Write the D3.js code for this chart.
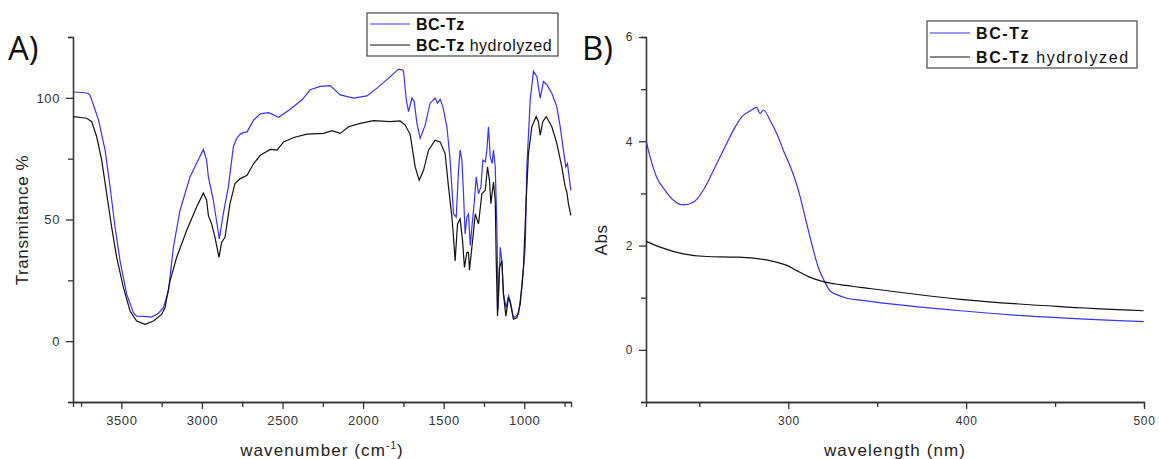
<!DOCTYPE html>
<html lang="en">
<head>
<meta charset="UTF-8">
<title>BC-Tz spectra</title>
<script src="https://cdn.jsdelivr.net/npm/d3@7"></script>
<style>
    body { margin: 0; background: #fff; }
    svg { display: block; font-family: "Liberation Sans", Arial, sans-serif; }
</style>
</head>
<body>
<div id="chart"></div>
<script>
// FTIR, BC-Tz (blue)
const irWnBlue = [3797, 3740, 3704, 3694, 3642, 3601, 3570, 3539, 3508, 3467, 3425, 3405, 3360, 3312, 3270, 3239, 3208, 3177, 3136, 3074, 3030, 2991, 2971, 2960, 2929, 2892, 2867, 2836, 2805, 2785, 2762, 2743, 2720, 2679, 2638, 2586, 2524, 2452, 2379, 2328, 2266, 2204, 2142, 2059, 1976, 1914, 1842, 1780, 1760, 1749, 1732, 1718, 1697, 1683, 1666, 1646, 1615, 1584, 1553, 1538, 1522, 1505, 1480, 1460, 1439, 1422, 1408, 1398, 1387, 1377, 1367, 1356, 1346, 1335, 1325, 1311, 1298, 1284, 1269, 1257, 1242, 1232, 1222, 1211, 1199, 1191, 1180, 1170, 1162, 1149, 1139, 1129, 1112, 1098, 1087, 1067, 1036, 1015, 994, 984, 963, 943, 922, 901, 881, 860, 829, 798, 777, 757, 742, 732, 711];
const irTBlue = [102.4, 102.2, 101.8, 101, 91, 78.5, 63.4, 46.8, 33, 19.3, 11.7, 10.3, 10.2, 9.9, 11.5, 13.8, 20.7, 38.6, 53.7, 67.5, 73.5, 78.8, 74.4, 67.5, 57.9, 42, 52.5, 63.4, 79.9, 83.3, 85.1, 85.7, 86, 90.9, 93.4, 93.9, 92, 95.3, 99.2, 103.3, 104.7, 105, 101.2, 99.9, 100.8, 104, 108.1, 111.8, 111.5, 110.9, 99.2, 94.3, 99.9, 98.5, 89.5, 83.3, 88.8, 97.8, 99.9, 97.8, 99.4, 96.4, 88.1, 74.4, 52.3, 51, 70.2, 78.5, 74.4, 60.6, 44.1, 51, 52.3, 39.3, 46.8, 56.5, 67.5, 60.6, 63.4, 74.4, 73.7, 78.5, 88.1, 75.7, 73, 78.5, 71.6, 46.8, 13, 38.6, 33, 19.3, 13.8, 18.6, 16.5, 9.6, 11, 22, 38.6, 71.6, 99.2, 110.9, 108.8, 99.9, 106.7, 105.4, 101.9, 96.4, 88.1, 78.5, 71.6, 73, 62];

// FTIR, BC-Tz hydrolyzed (black)
const irWnBlack = [3797, 3715, 3684, 3653, 3622, 3591, 3560, 3529, 3487, 3446, 3405, 3353, 3301, 3250, 3229, 3198, 3157, 3095, 3033, 2991, 2971, 2960, 2940, 2919, 2894, 2878, 2857, 2826, 2795, 2762, 2720, 2679, 2638, 2576, 2534, 2493, 2431, 2348, 2245, 2193, 2142, 2090, 2018, 1935, 1832, 1770, 1739, 1708, 1677, 1652, 1625, 1594, 1553, 1522, 1491, 1470, 1449, 1439, 1429, 1414, 1398, 1383, 1371, 1356, 1346, 1340, 1325, 1304, 1284, 1263, 1242, 1228, 1216, 1207, 1191, 1180, 1174, 1166, 1154, 1139, 1129, 1114, 1098, 1087, 1067, 1046, 1025, 1005, 988, 974, 953, 926, 912, 901, 885, 864, 829, 798, 767, 746, 736, 726, 711];
const irTBlack = [92.3, 91.6, 90.2, 84, 74.4, 60.6, 46.8, 34.4, 22, 12.4, 8.3, 6.9, 8.3, 11, 13.8, 24.8, 34.4, 45.5, 55.1, 60.9, 57.9, 51.7, 48.2, 42.7, 34.4, 40.6, 42.7, 56.5, 64.8, 66.8, 68.2, 73, 76.4, 78.8, 78.5, 81.9, 83.7, 85.1, 85.4, 86.5, 85.4, 88.1, 89.5, 90.6, 90.2, 90.5, 88.8, 85, 71.6, 66.1, 70.2, 78.5, 82.6, 81.9, 77.1, 63.4, 51, 42.7, 33, 48.2, 50.3, 41.3, 30.3, 36.5, 36.5, 29.2, 38.6, 52.3, 48.2, 60.6, 62, 71.6, 66.1, 56.5, 65.4, 57.9, 33, 10.3, 30.3, 33, 19.3, 10.3, 17.9, 15.8, 9, 9.6, 15.2, 30.3, 57.9, 77.1, 88.1, 92.3, 90.2, 84.7, 90.2, 92.3, 88.1, 81.3, 71.6, 63.4, 61.3, 56.5, 51.7];

// UV-Vis
const uvWlBlue = [220, 222.3, 226, 230.7, 235.4, 241, 246.6, 252.2, 257.9, 263.5, 269.1, 273.8, 278.5, 282.3, 284.1, 286, 289.8, 293.5, 297.2, 302, 305.7, 309.5, 313.2, 316.9, 320.7, 323.5, 327.3, 332.9, 340.4, 396.7, 434.2, 499.8];
const uvAbsBlue = [4.02, 3.7, 3.31, 3.06, 2.87, 2.78, 2.83, 3.06, 3.44, 3.83, 4.21, 4.47, 4.58, 4.65, 4.53, 4.6, 4.4, 4.15, 3.83, 3.44, 3.06, 2.54, 2.03, 1.58, 1.29, 1.13, 1.06, 0.99, 0.955, 0.75, 0.65, 0.54];
const uvWlBlack = [220, 227.9, 241, 254.1, 269.1, 280.4, 289.8, 299.2, 304.8, 312.3, 319.7, 329.2, 340.4, 396.7, 452.9, 499.8];
const uvAbsBlack = [2.08, 1.97, 1.84, 1.79, 1.78, 1.76, 1.71, 1.62, 1.52, 1.39, 1.31, 1.25, 1.2, 0.97, 0.83, 0.75];

const seriesNames = ['BC-Tz', 'BC-Tz'];
const seriesColors = ['#3434ff', '#111111'];

const w = 1159, h = 459;
const svg = d3.select('#chart').append('svg').attr('width', w).attr('height', h);

// draws one panel: axes, ticks, curves, legend
function panel(opt) {
    const x = d3.scaleLinear().domain(opt.xDomain).range([opt.left, opt.right]);
    const y = d3.scaleLinear().domain(opt.yDomain).range([opt.bottom, opt.top]);
    const g = svg.append('g');

    // minor ticks first, then major with labels
    const xAxisMinor = d3.axisBottom(x).tickValues(opt.xMinor).tickSize(5).tickFormat('');
    const yAxisMinor = d3.axisLeft(y).tickValues(opt.yMinor).tickSize(5).tickFormat('');
    g.append('g').attr('transform', `translate(0,${opt.bottom})`).call(xAxisMinor);
    g.append('g').attr('transform', `translate(${opt.left},0)`).call(yAxisMinor);

    const xAxis = d3.axisBottom(x).tickValues(opt.xMajor).tickFormat(d3.format('d'))
        .tickSize(7).tickPadding(7).tickSizeOuter(0);
    const yAxis = d3.axisLeft(y).tickValues(opt.yMajor).tickFormat(d3.format('d'))
        .tickSize(7).tickPadding(6).tickSizeOuter(0);
    g.append('g').attr('transform', `translate(0,${opt.bottom})`).call(xAxis);
    g.append('g').attr('transform', `translate(${opt.left},0)`).call(yAxis);

    g.selectAll('.domain, .tick line').attr('stroke', '#333').attr('stroke-width', 1.3);
    g.selectAll('.tick text')
        .attr('fill', '#333')
        .style('font-size', opt.tickFont)
        .style('letter-spacing', '0.6px');

    opt.series.forEach((s, i) => {
        const pts = d3.zip(s.xs, s.ys);
        g.append('path')
            .datum(pts)
            .attr('fill', 'none')
            .attr('stroke', seriesColors[i])
            .attr('stroke-width', 1.2)
            .attr('d', d3.line().x(d => x(d[0])).y(d => y(d[1])).curve(opt.curve));
    });

    // axis titles
    g.append('text')
        .attr('transform', `translate(${opt.yTitleX},${opt.yTitleY}) rotate(-90)`)
        .attr('text-anchor', 'middle')
        .attr('fill', '#222')
        .style('font-size', '17px')
        .style('letter-spacing', '0.6px')
        .text(opt.yTitle);

    const xt = g.append('text')
        .attr('x', (opt.left + opt.right) / 2)
        .attr('y', 456)
        .attr('text-anchor', 'middle')
        .attr('fill', '#222')
        .style('font-size', '17px')
        .style('letter-spacing', '1.1px')
        .text(opt.xTitle);
    if (opt.xTitleSup) {
        xt.append('tspan').attr('dy', -7).style('font-size', '10px').text(opt.xTitleSup);
        xt.append('tspan').attr('dy', 7).text(')');
    }

    // panel letter
    g.append('text')
        .attr('x', opt.letterX)
        .attr('y', 60)
        .attr('fill', '#111')
        .style('font-family', '"Open Sans", sans-serif')
        .style('font-size', '33px')
        .text(opt.letter);

    // legend
    const lg = g.append('g').attr('transform', `translate(${opt.legend.x},${opt.legend.y})`);
    lg.append('rect')
        .attr('width', opt.legend.w).attr('height', opt.legend.h)
        .attr('fill', '#fff').attr('stroke', '#444').attr('stroke-width', 1.2);
    seriesNames.forEach((name, i) => {
        const yy = opt.legend.rowY[i];
        lg.append('line')
            .attr('x1', 3).attr('x2', 43).attr('y1', yy).attr('y2', yy)
            .attr('stroke', seriesColors[i]).attr('stroke-width', 1.2);
        const t = lg.append('text')
            .attr('x', 49).attr('y', yy + 6)
            .attr('fill', '#111')
            .style('font-size', '16px')
            .style('letter-spacing', opt.legend.spacing);
        t.append('tspan').style('font-weight', 'bold').text(name);
        if (i === 1) t.append('tspan').text(' hydrolyzed');
    });
}

panel({
    left: 73, right: 571, top: 37, bottom: 402,
    xDomain: [3800, 710], yDomain: [-25, 125],
    xMajor: [3500, 3000, 2500, 2000, 1500, 1000],
    xMinor: [3750, 3250, 2750, 2250, 1750, 1250, 750],
    yMajor: [0, 50, 100],
    yMinor: [-25, 25, 75, 125],
    series: [{ xs: irWnBlue, ys: irTBlue }, { xs: irWnBlack, ys: irTBlack }],
    curve: d3.curveLinear,
    tickFont: '13px',
    yTitle: 'Transmitance %', yTitleX: 28, yTitleY: 220,
    xTitle: 'wavenumber (cm', xTitleSup: '-1',
    letter: 'A)', letterX: 8,
    legend: { x: 367, y: 13, w: 191, h: 43, rowY: [11, 32], spacing: '0.5px' }
});

panel({
    left: 646, right: 1144, top: 37, bottom: 402,
    xDomain: [220, 500], yDomain: [-1, 6],
    xMajor: [300, 400, 500],
    xMinor: [250, 350, 450],
    yMajor: [0, 2, 4, 6],
    yMinor: [-1, 1, 3, 5],
    series: [{ xs: uvWlBlue, ys: uvAbsBlue }, { xs: uvWlBlack, ys: uvAbsBlack }],
    curve: d3.curveMonotoneX,
    tickFont: '12px',
    yTitle: 'Abs', yTitleX: 607, yTitleY: 240,
    xTitle: 'wavelength (nm)',
    letter: 'B)', letterX: 582,
    legend: { x: 927, y: 21, w: 210, h: 47, rowY: [12, 36], spacing: '1.6px' }
});
</script>
</body>
</html>
